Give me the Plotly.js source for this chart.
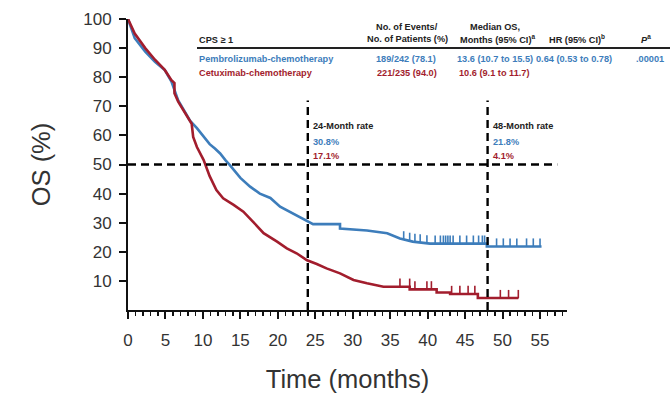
<!DOCTYPE html>
<html>
<head>
<meta charset="utf-8">
<script src="https://cdn.plot.ly/plotly-3.0.1.min.js"></script>
<style>
  html, body { margin: 0; padding: 0; background: #ffffff; }
  #chart { width: 670px; height: 399px; }
</style>
</head>
<body>
<div id="chart"></div>
<script>
// ---------------- data ----------------
const pembroTime = [0, 0.9, 2.3, 3.6, 4.9, 5.8, 6.7, 7.6, 8.3, 9.2, 10.3, 10.9, 11.6, 12.3, 13.0, 13.6, 15.0, 16.3, 17.6, 19.0, 20.3, 21.6, 23.0, 23.9, 24.7, 28.3, 28.3, 31.9, 34.6, 36.3, 38.0, 40.3, 47.9, 47.9, 55.2];
const pembroSurv = [100, 93.4, 88.8, 85.3, 82.5, 78.5, 72.0, 68.0, 65.0, 62.5, 59.0, 57.0, 55.5, 53.8, 51.5, 49.8, 45.4, 42.4, 40.0, 38.5, 35.5, 33.8, 32.0, 30.8, 29.5, 29.5, 28.0, 27.3, 26.4, 24.6, 23.5, 22.8, 22.8, 21.8, 21.8];

const cetuxTime = [0, 0.9, 2.3, 3.6, 4.9, 5.8, 6.2, 6.2, 6.7, 7.6, 8.0, 8.5, 8.7, 9.2, 10.1, 10.9, 11.8, 12.7, 14.1, 15.4, 16.7, 18.1, 19.9, 21.2, 22.5, 23.9, 25.2, 26.5, 28.3, 30.1, 31.9, 34.1, 37.6, 37.6, 41.2, 41.2, 43.0, 43.0, 46.7, 46.7, 52.1];
const cetuxSurv = [100, 95.0, 90.0, 86.0, 82.5, 79.0, 78.0, 74.5, 71.6, 68.0, 66.0, 64.0, 59.5, 56.0, 51.5, 46.0, 41.2, 38.4, 36.1, 33.8, 30.3, 26.4, 23.5, 21.2, 19.5, 17.1, 15.8, 14.3, 12.6, 10.3, 9.2, 8.0, 8.0, 7.1, 7.1, 6.0, 6.0, 5.5, 5.5, 4.1, 4.1];

const pembroCensor = [36.8, 37.6, 38.3, 39.0, 39.9, 41.0, 41.7, 42.1, 42.4, 42.7, 43.0, 43.4, 44.3, 45.2, 46.1, 46.8, 47.3, 47.6, 48.0, 49.2, 50.1, 51.0, 51.9, 53.2, 54.1, 55.0];
const cetuxCensor = [36.3, 37.6, 38.3, 39.9, 40.5, 43.2, 44.3, 45.4, 46.3, 49.7, 50.8, 52.1];

const xTickVals = [0, 5, 10, 15, 20, 25, 30, 35, 40, 45, 50, 55];
const yTickVals = [10, 20, 30, 40, 50, 60, 70, 80, 90, 100];

const landmarkMonths = [24, 48];
const landmarkLabels = ['24-Month rate', '48-Month rate'];
const pembroRates = ['30.8%', '21.8%'];
const cetuxRates = ['17.1%', '4.1%'];
const medianLevel = 50;

const tableHeader = ['CPS \u2265 1', 'No. of Events/', 'No. of Patients (%)', 'Median OS,', 'Months (95% CI)<sup>a</sup>', 'HR (95% CI)<sup>b</sup>', '<i>P</i><sup>a</sup>'];
const pembroRow = ['Pembrolizumab-chemotherapy', '189/242 (78.1)', '13.6 (10.7 to 15.5)', '0.64 (0.53 to 0.78)', '.00001'];
const cetuxRow = ['Cetuximab-chemotherapy', '221/235 (94.0)', '10.6 (9.1 to 11.7)'];

// ---------------- styling ----------------
const BLUE = '#3D7DBB';
const RED = '#A21D2D';
const INK = '#222222';

// survival value on the drawn curve at time t
function survAt(times, surv, t) {
  let last = surv[0];
  for (let i = 0; i < times.length - 1; i++) {
    if (t >= times[i] && t <= times[i + 1]) {
      if (times[i + 1] === times[i]) return surv[i + 1];
      const f = (t - times[i]) / (times[i + 1] - times[i]);
      return surv[i] + f * (surv[i + 1] - surv[i]);
    }
    last = surv[i + 1];
  }
  return last;
}

const censorStyle = function (color) {
  return {
    type: 'constant', symmetric: false, value: 2.8, valueminus: 0,
    width: 0, thickness: 1.6, color: color
  };
};

const traces = [
  {
    x: pembroTime, y: pembroSurv, type: 'scatter', mode: 'lines',
    line: { color: BLUE, width: 2.6 }, name: 'Pembrolizumab-chemotherapy', hoverinfo: 'x+y'
  },
  {
    x: cetuxTime, y: cetuxSurv, type: 'scatter', mode: 'lines',
    line: { color: RED, width: 2.6 }, name: 'Cetuximab-chemotherapy', hoverinfo: 'x+y'
  },
  {
    x: pembroCensor, y: pembroCensor.map(t => survAt(pembroTime, pembroSurv, t)),
    type: 'scatter', mode: 'markers', marker: { size: 1, color: BLUE },
    error_y: censorStyle(BLUE), hoverinfo: 'skip', name: 'censored'
  },
  {
    x: cetuxCensor, y: cetuxCensor.map(t => survAt(cetuxTime, cetuxSurv, t)),
    type: 'scatter', mode: 'markers', marker: { size: 1, color: RED },
    error_y: censorStyle(RED), hoverinfo: 'skip', name: 'censored'
  }
];

// pixel helpers for text outside the plot frame
const PL = 128, PR = 567, PT = 19, PB = 310;
const px = v => (v - PL) / (PR - PL);
const py = v => (PB - v) / (PB - PT);

const tFont = { family: 'Liberation Sans, Arial, sans-serif', size: 9.2, color: INK, weight: 'bold' };
const bFont = Object.assign({}, tFont, { color: BLUE });
const rFont = Object.assign({}, tFont, { color: RED });

function ann(text, x, y, font, xanchor) {
  return { text: text, xref: 'paper', yref: 'paper', x: px(x), y: py(y),
           xanchor: xanchor || 'center', yanchor: 'middle', showarrow: false, font: font, borderpad: 0 };
}

const annotations = [
  ann('<b>' + tableHeader[0] + '</b>', 198, 40, tFont, 'left'),
  ann('<b>' + tableHeader[1] + '</b>', 407, 27, tFont),
  ann('<b>' + tableHeader[2] + '</b>', 407, 38.5, tFont),
  ann('<b>' + tableHeader[3] + '</b>', 495, 27, tFont),
  ann('<b>' + tableHeader[4] + '</b>', 497, 38.5, tFont),
  ann('<b>' + tableHeader[5] + '</b>', 577, 39, tFont),
  ann('<b>' + tableHeader[6] + '</b>', 646, 38.5, tFont),
  ann('<b>' + pembroRow[0] + '</b>', 198, 59, bFont, 'left'),
  ann('<b>' + pembroRow[1] + '</b>', 406, 59, bFont),
  ann('<b>' + pembroRow[2] + '</b>', 495, 59, bFont),
  ann('<b>' + pembroRow[3] + '</b>', 574, 59, bFont),
  ann('<b>' + pembroRow[4] + '</b>', 650, 59, bFont),
  ann('<b>' + cetuxRow[0] + '</b>', 198, 73, rFont, 'left'),
  ann('<b>' + cetuxRow[1] + '</b>', 407, 73, rFont),
  ann('<b>' + cetuxRow[2] + '</b>', 494, 73, rFont)
];

landmarkMonths.forEach(function (m, i) {
  const common = { xref: 'x', yref: 'paper', x: m, xanchor: 'left', yanchor: 'middle',
                   xshift: 4, showarrow: false, borderpad: 0 };
  annotations.push(Object.assign({ text: '<b>' + landmarkLabels[i] + '</b>', y: py(126), font: tFont }, common));
  annotations.push(Object.assign({ text: '<b>' + pembroRates[i] + '</b>', y: py(141.5), font: bFont }, common));
  annotations.push(Object.assign({ text: '<b>' + cetuxRates[i] + '</b>', y: py(156), font: rFont }, common));
});

const dashLine = { color: '#000000', width: 2.4, dash: '8px,5px' };
const shapes = [
  { type: 'line', xref: 'x', yref: 'y', x0: 0, x1: 57.3, y0: medianLevel, y1: medianLevel, line: dashLine, layer: 'above' }
];
landmarkMonths.forEach(function (m) {
  shapes.push({ type: 'line', xref: 'x', yref: 'y', x0: m, x1: m, y0: 0, y1: 72, line: dashLine, layer: 'above' });
});
shapes.push({ type: 'line', xref: 'paper', yref: 'paper', x0: px(197), x1: px(670), y0: py(48), y1: py(48),
              line: { color: INK, width: 2 } });

const tickFont = { family: 'Liberation Sans, Arial, sans-serif', size: 17, color: '#333333' };
const titleFont = { family: 'Liberation Sans, Arial, sans-serif', size: 25.5, color: '#333333' };

const layout = {
  width: 670, height: 399,
  margin: { l: PL, r: 670 - PR, t: PT, b: 399 - PB, pad: 0 },
  paper_bgcolor: '#ffffff', plot_bgcolor: '#ffffff',
  showlegend: false,
  xaxis: {
    range: [0, 58.6], tickvals: xTickVals, ticks: 'outside', ticklen: 7, tickwidth: 2, tickcolor: '#111',
    showline: true, linewidth: 2, linecolor: '#111', showgrid: false, zeroline: false,
    tickfont: tickFont, ticklabelstandoff: 7,
    minor: { dtick: 1, tick0: 0, ticks: 'outside', ticklen: 3.5, tickwidth: 1.5, tickcolor: '#111', showgrid: false },
    title: { text: 'Time (months)', font: titleFont, standoff: 21 }
  },
  yaxis: {
    range: [0, 100], tickvals: yTickVals, ticks: 'outside', ticklen: 7, tickwidth: 2, tickcolor: '#111',
    showline: true, linewidth: 2, linecolor: '#111', showgrid: false, zeroline: false,
    tickfont: tickFont, ticklabelstandoff: 4,
    title: { text: 'OS (%)', font: titleFont, standoff: 25 }
  },
  annotations: annotations,
  shapes: shapes
};

Plotly.newPlot('chart', traces, layout, { displayModeBar: false, staticPlot: true });
</script>
</body>
</html>
